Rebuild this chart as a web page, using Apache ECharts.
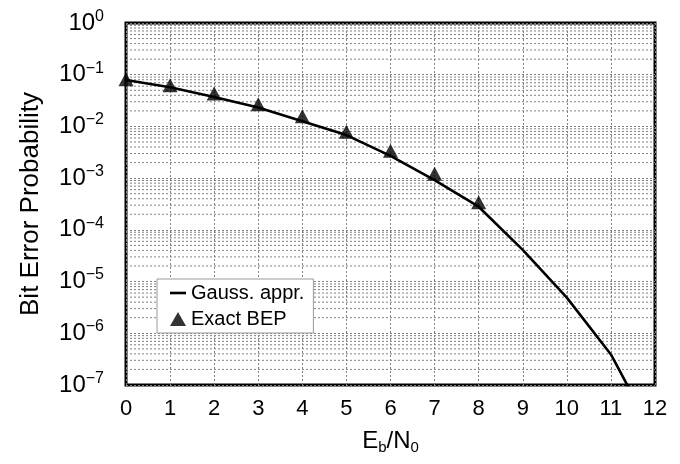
<!DOCTYPE html>
<html>
<head>
<meta charset="utf-8">
<script src="https://cdn.jsdelivr.net/npm/echarts@6/dist/echarts.min.js"></script>
<style>
  html, body { margin: 0; padding: 0; background: #fff; }
  #chart { width: 680px; height: 464px; }
</style>
</head>
<body>
<div id="chart"></div>
<script>
// ---- data ----
const ebn0 = [0, 1, 2, 3, 4, 5, 6, 7, 8, 9, 10, 11, 12];
const gaussAppr = [0.079, 0.057, 0.037, 0.0232, 0.0126, 0.0068, 0.0027, 0.00092, 0.00028, 4.1e-5, 4.9e-6, 3.9e-7, 1e-8];
const exactX = [0, 1, 2, 3, 4, 5, 6, 7, 8];
const exactBEP = [0.0815, 0.0625, 0.0432, 0.0269, 0.0158, 0.0079, 0.0034, 0.00121, 0.00034];
const xTicks = [0, 1, 2, 3, 4, 5, 6, 7, 8, 9, 10, 11, 12];
const decadeExponents = [-7, -6, -5, -4, -3, -2, -1, 0];
const minorMultipliers = [2, 3, 4, 5, 6, 7, 8, 9];
const seriesNames = ['Gauss. appr.', 'Exact BEP'];

// ---- build ----
const FONT = 'Liberation Sans, Arial, Helvetica, sans-serif';
const xMin = xTicks[0], xMax = xTicks[xTicks.length - 1];
const minorGridData = [];
decadeExponents.slice(0, -1).forEach(function (e) {
  minorMultipliers.forEach(function (m) {
    const v = m * Math.pow(10, e);
    minorGridData.push([xMin, v], [xMax, v], '-');
  });
});
const gridStyle = { color: '#808080', width: 1, type: [2, 2] };

const chart = echarts.init(document.getElementById('chart'), null, { renderer: 'canvas' });
chart.setOption({
  animation: false,
  backgroundColor: '#fff',
  textStyle: { fontFamily: FONT },
  grid: {
    left: 126, right: 25, top: 23, bottom: 79,
    show: true, borderColor: '#000', borderWidth: 3, backgroundColor: 'transparent'
  },
  legend: {
    orient: 'vertical',
    left: 157, top: 279,
    backgroundColor: '#fff',
    borderColor: '#999', borderWidth: 1, borderRadius: 0,
    padding: [4, 9, 4, 13],
    itemGap: 6,
    itemWidth: 16, itemHeight: 14,
    textStyle: { fontSize: 20, color: '#000', fontFamily: FONT },
    data: [
      { name: seriesNames[0], icon: 'path://M0,0H16V2.6H0Z' },
      { name: seriesNames[1], icon: 'triangle' }
    ]
  },
  xAxis: {
    type: 'value',
    min: xMin, max: xMax, interval: 1,
    axisLine: { show: false },
    axisTick: { show: false },
    splitLine: { show: true, lineStyle: gridStyle },
    axisLabel: { fontSize: 22, color: '#000', margin: 13, fontFamily: FONT },
    name: '{m|E}{s|b}{m|/N}{s|0}',
    nameLocation: 'middle',
    nameGap: 42,
    nameTextStyle: {
      rich: {
        m: { fontSize: 24, color: '#000', fontFamily: FONT },
        s: { fontSize: 15, color: '#000', fontFamily: FONT, padding: [13, 0, 0, 0] }
      }
    }
  },
  yAxis: {
    type: 'log', logBase: 10,
    min: Math.pow(10, decadeExponents[0]),
    max: Math.pow(10, decadeExponents[decadeExponents.length - 1]),
    axisLine: { show: false },
    axisTick: { show: false },
    splitLine: { show: true, lineStyle: gridStyle },
    axisLabel: {
      margin: 22,
      formatter: function (v) {
        const e = Math.round(Math.log10(v));
        return '{b|10}{e|' + (e < 0 ? '\u2212' + (-e) : e) + '}';
      },
      rich: {
        b: { fontSize: 24, color: '#000', fontFamily: FONT },
        e: { fontSize: 16, color: '#000', fontFamily: FONT, padding: [0, 0, 13, 0] }
      }
    },
    name: 'Bit Error Probability',
    nameLocation: 'middle',
    nameGap: 82,
    nameTextStyle: { fontSize: 26, color: '#000', fontFamily: FONT }
  },
  series: [
    {
      name: 'minor grid',
      type: 'line',
      data: minorGridData,
      symbol: 'none',
      silent: true,
      connectNulls: false,
      lineStyle: gridStyle,
      z: 1
    },
    {
      name: seriesNames[0],
      type: 'line',
      data: ebn0.map(function (x, i) { return [x, gaussAppr[i]]; }),
      symbol: 'none',
      clip: true,
      lineStyle: { color: '#000', width: 2.6 },
      itemStyle: { color: '#000' },
      z: 3
    },
    {
      name: seriesNames[1],
      type: 'scatter',
      data: exactX.map(function (x, i) { return [x, exactBEP[i]]; }),
      symbol: 'triangle',
      symbolSize: [15, 14],
      itemStyle: { color: '#000' },
      z: 4
    }
  ]
});
</script>
</body>
</html>
